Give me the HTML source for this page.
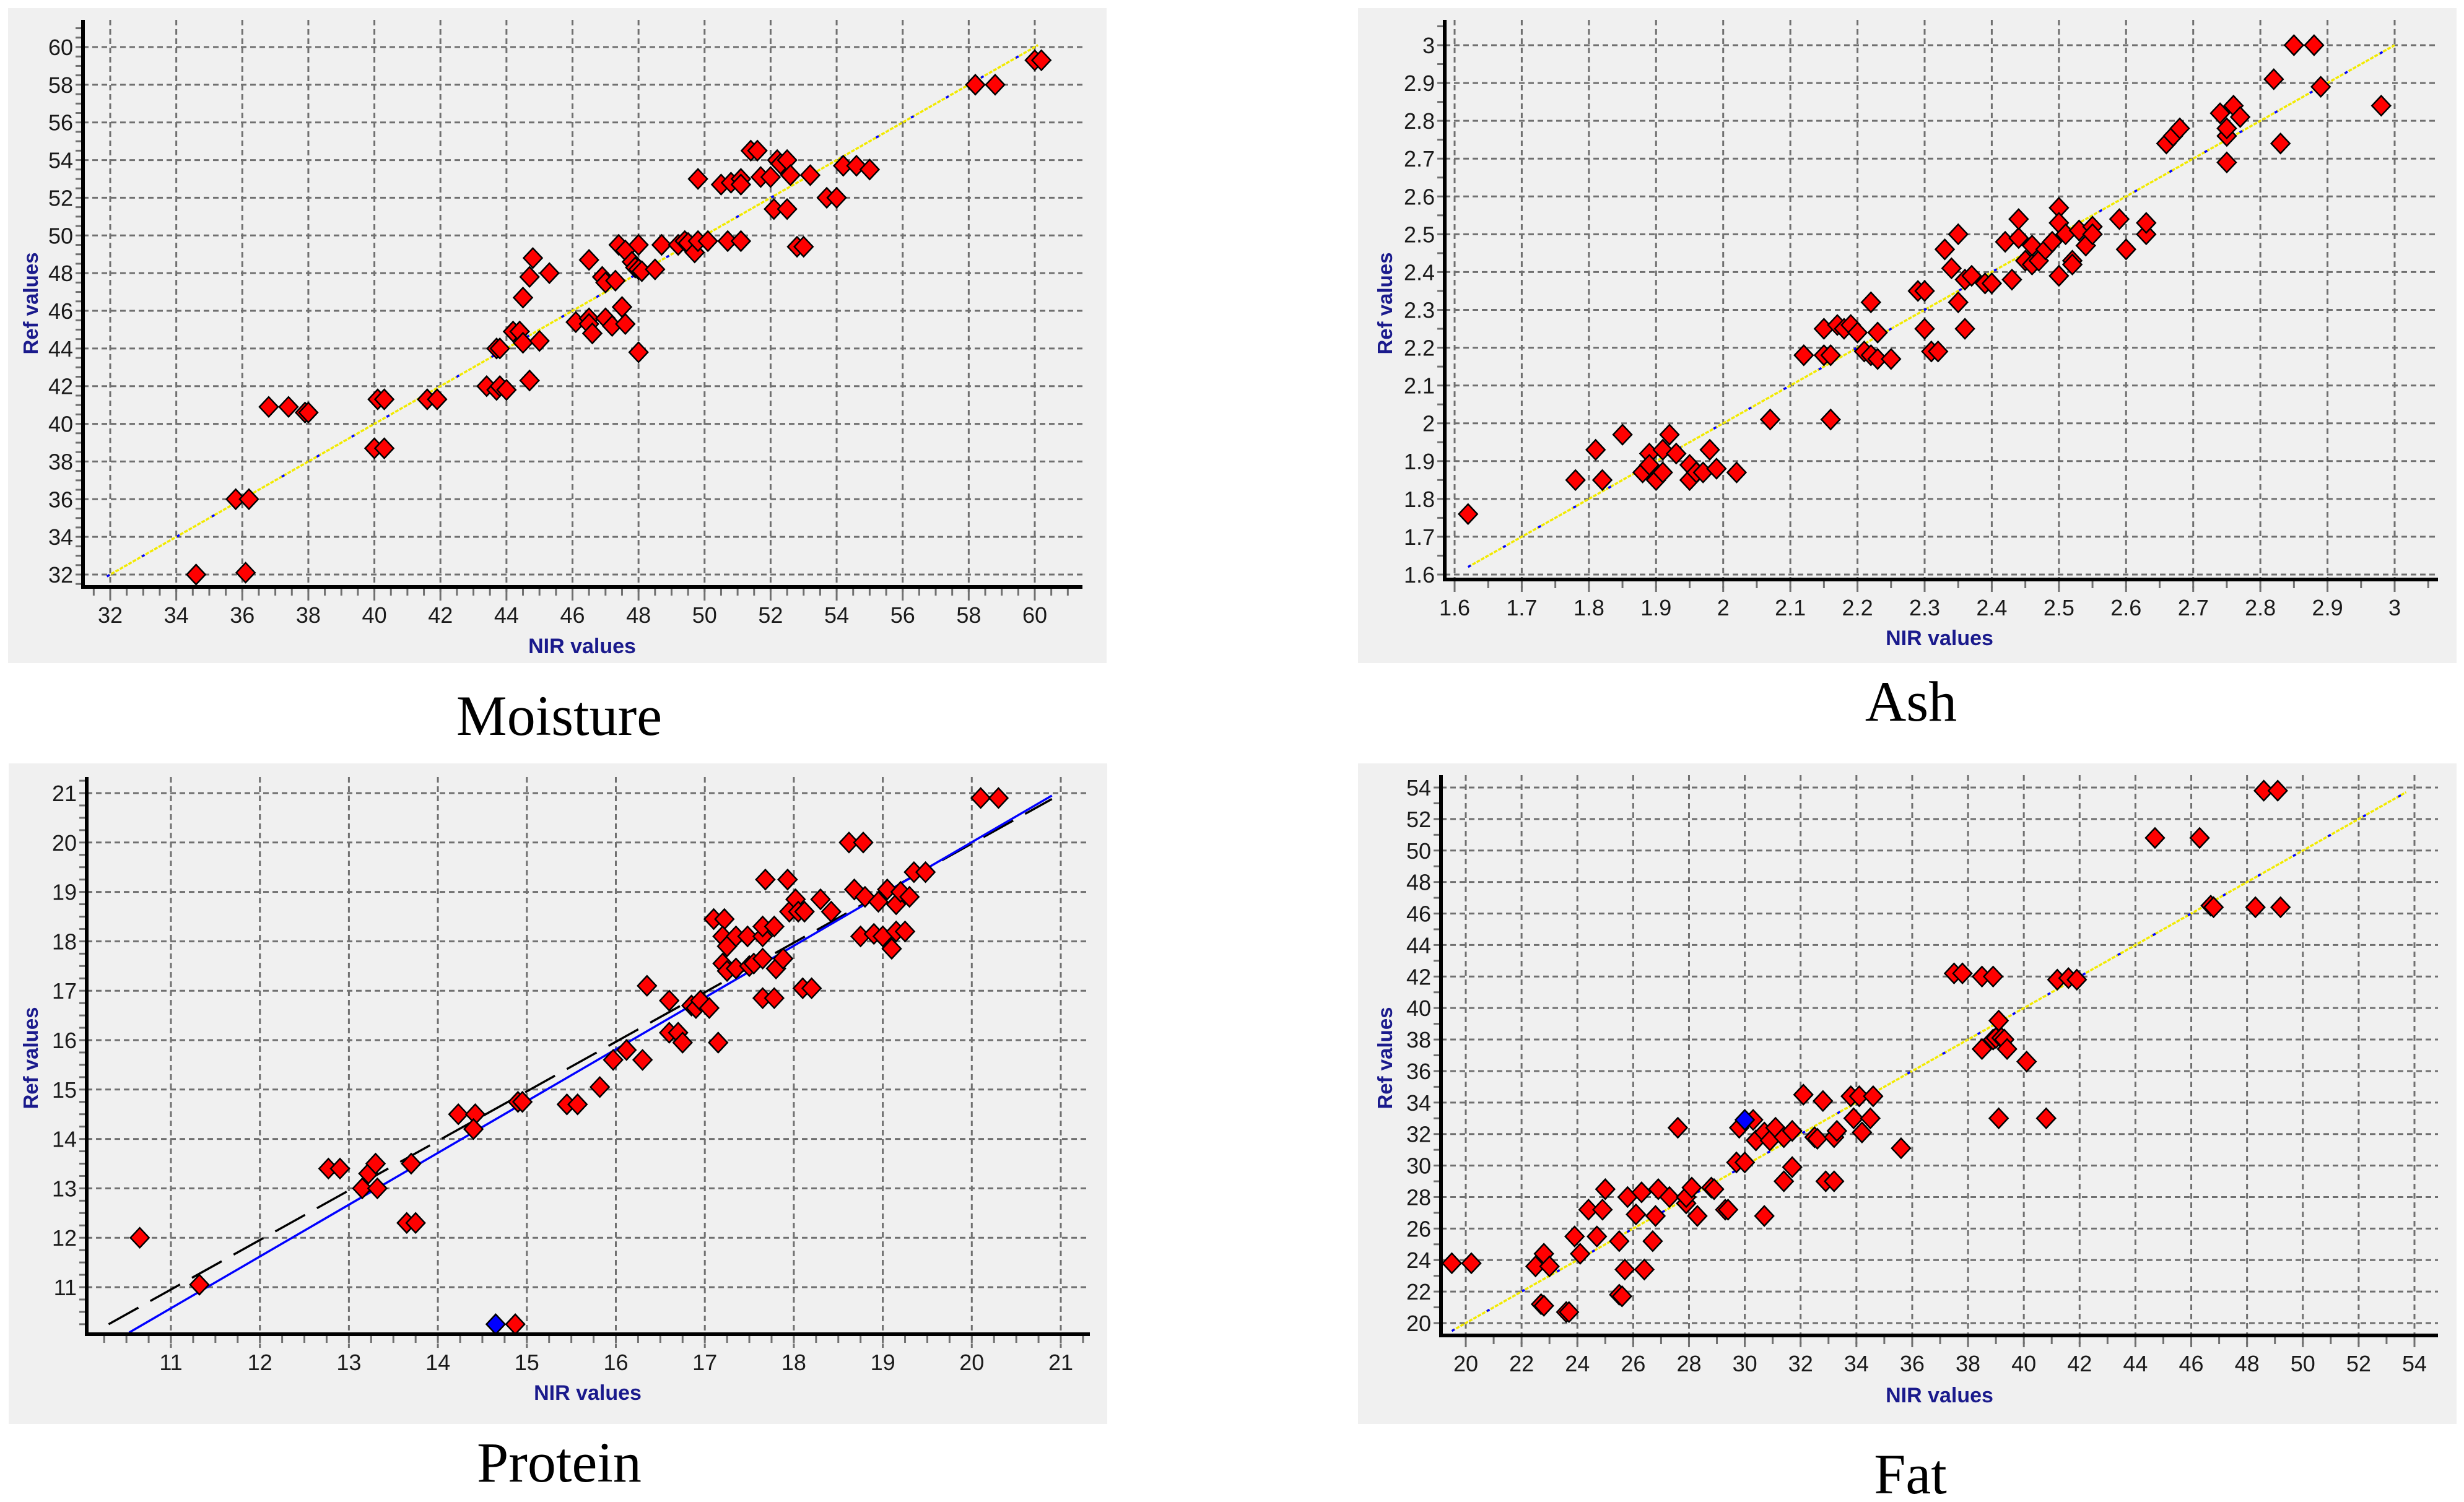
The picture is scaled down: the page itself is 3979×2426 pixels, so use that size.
<!DOCTYPE html>
<html><head><meta charset="utf-8">
<style>
html,body{margin:0;padding:0;background:#fff;}
svg{display:block;}
text{font-family:"Liberation Sans",Arial,sans-serif;}
</style></head>
<body>
<svg id="root" width="3979" height="2426" viewBox="0 0 3979 2426" xmlns="http://www.w3.org/2000/svg"></svg>
<script>
// ---- Moisture data ----
const moistureNIR = [34.6,36.1,35.8,36.2,36.8,37.4,37.9,38.0,40.0,40.3,40.1,40.3,41.6,41.9,43.4,43.7,43.8,44.0,44.7,43.7,43.8,44.2,44.4,44.5,45.0,44.5,44.7,44.8,45.3,46.1,46.5,46.5,46.6,46.5,46.9,47.0,47.3,47.0,47.2,47.5,47.6,47.4,47.6,47.8,47.9,48.0,48.0,48.1,48.5,48.0,48.7,49.2,49.4,49.5,49.7,49.8,50.1,49.8,50.5,50.8,51.1,51.1,50.7,51.1,51.4,51.6,51.7,52.0,52.1,52.2,52.3,52.5,52.6,52.5,52.8,53.0,53.2,53.7,54.0,54.2,54.6,55.0,58.2,58.8,60.0,60.2];
const moistureRef = [32,32.1,36,36,40.9,40.9,40.6,40.6,38.7,38.7,41.3,41.3,41.3,41.3,42,41.8,42,41.8,42.3,44,44,44.9,44.9,44.3,44.4,46.7,47.8,48.8,48,45.4,45.6,45.3,44.8,48.7,47.8,47.5,47.6,45.6,45.2,46.2,45.3,49.5,49.2,48.6,48.3,49.5,48.2,48.1,48.2,43.8,49.5,49.5,49.7,49.6,49.1,49.7,49.7,53,52.7,52.8,53,52.7,49.7,49.7,54.5,54.5,53.1,53.1,51.4,54,53.8,54,53.2,51.4,49.4,49.4,53.2,52,52,53.7,53.7,53.5,58,58,59.3,59.3];
const moistureXTicks = [32,34,36,38,40,42,44,46,48,50,52,54,56,58,60];
const moistureYTicks = [32,34,36,38,40,42,44,46,48,50,52,54,56,58,60];
const moistureFit = [31.9,60.1];

// ---- Ash data ----
const ashNIR = [1.62,1.78,1.81,1.82,1.85,1.88,1.89,1.89,1.90,1.91,1.92,1.93,1.91,1.95,1.95,1.96,1.97,1.98,1.99,2.02,2.07,2.12,2.15,2.16,2.15,2.16,2.17,2.18,2.19,2.20,2.21,2.22,2.22,2.23,2.23,2.25,2.29,2.30,2.30,2.31,2.32,2.33,2.34,2.35,2.35,2.36,2.37,2.36,2.39,2.40,2.42,2.43,2.44,2.44,2.45,2.46,2.46,2.47,2.48,2.49,2.50,2.50,2.50,2.51,2.52,2.52,2.53,2.54,2.55,2.55,2.59,2.60,2.63,2.63,2.66,2.67,2.68,2.74,2.75,2.75,2.75,2.76,2.77,2.82,2.83,2.85,2.88,2.89,2.98];
const ashRef = [1.76,1.85,1.93,1.85,1.97,1.87,1.92,1.89,1.85,1.93,1.97,1.92,1.87,1.89,1.85,1.87,1.87,1.93,1.88,1.87,2.01,2.18,2.18,2.18,2.25,2.01,2.26,2.25,2.26,2.24,2.19,2.32,2.18,2.24,2.17,2.17,2.35,2.35,2.25,2.19,2.19,2.46,2.41,2.50,2.32,2.38,2.39,2.25,2.37,2.37,2.48,2.38,2.49,2.54,2.43,2.47,2.42,2.43,2.46,2.48,2.57,2.53,2.39,2.50,2.43,2.42,2.51,2.47,2.52,2.50,2.54,2.46,2.50,2.53,2.74,2.76,2.78,2.82,2.76,2.78,2.69,2.84,2.81,2.91,2.74,3.0,3.0,2.89,2.84];
const ashXTicks = [1.6,1.7,1.8,1.9,2,2.1,2.2,2.3,2.4,2.5,2.6,2.7,2.8,2.9,3];
const ashYTicks = [1.6,1.7,1.8,1.9,2,2.1,2.2,2.3,2.4,2.5,2.6,2.7,2.8,2.9,3];
const ashFit = [1.62,3.0];

// ---- Protein data ----
const proteinNIR = [10.65,11.32,12.77,12.9,13.15,13.22,13.3,13.32,13.65,13.75,13.7,14.23,14.42,14.4,14.9,14.95,15.45,15.57,15.82,15.97,16.12,16.3,16.35,16.6,16.6,16.7,16.75,16.85,16.9,16.95,17.05,17.15,17.1,17.22,17.2,17.25,17.2,17.25,17.35,17.35,17.48,17.5,17.55,17.65,17.65,17.65,17.65,17.68,17.78,17.78,17.8,17.88,17.93,17.95,18.02,18.05,18.12,18.1,18.2,18.3,18.42,18.62,18.78,18.68,18.8,18.75,18.9,18.95,19.0,19.05,19.1,19.15,19.15,19.2,19.25,19.3,19.35,19.48,20.1,20.3,14.87];
const proteinRef = [12,11.05,13.4,13.4,13,13.3,13.5,13,12.3,12.3,13.5,14.5,14.5,14.2,14.75,14.75,14.7,14.7,15.05,15.6,15.8,15.6,17.1,16.8,16.15,16.15,15.95,16.7,16.65,16.8,16.65,15.95,18.45,18.45,18.1,17.9,17.55,17.4,18.1,17.45,18.1,17.5,17.55,18.1,18.3,17.65,16.85,19.25,18.3,16.85,17.45,17.65,19.25,18.6,18.85,18.6,18.6,17.05,17.05,18.85,18.6,20,20,19.05,18.9,18.1,18.15,18.8,18.1,19.05,17.85,18.2,18.75,19,18.2,18.9,19.4,19.4,20.9,20.9,10.25];
const proteinBlueNIR = [14.65];
const proteinBlueRef = [10.25];
const proteinXTicks = [11,12,13,14,15,16,17,18,19,20,21];
const proteinYTicks = [11,12,13,14,15,16,17,18,19,20,21];
const proteinFitBlueX = [10.53,20.9];
const proteinFitBlueY = [10.08,20.95];
const proteinFitBlackX = [10.3,20.9];
const proteinFitBlackY = [10.25,20.88];

// ---- Fat data ----
const fatNIR = [19.5,20.2,22.5,22.8,23.0,22.7,22.8,23.6,23.7,23.9,24.1,24.4,24.7,24.9,25.0,25.5,25.5,25.6,25.7,25.8,26.1,26.3,26.4,26.7,26.8,26.9,27.3,27.6,27.9,27.9,28.1,28.3,28.8,28.9,29.3,29.4,29.7,29.8,30.0,30.3,30.4,30.7,30.7,30.9,31.1,31.4,31.4,31.7,31.7,32.1,32.5,32.6,32.8,32.9,33.2,33.2,33.3,33.8,33.9,34.1,34.2,34.5,34.6,35.6,37.5,37.8,38.5,38.5,38.9,38.9,39.0,39.1,39.1,39.2,39.3,39.4,40.1,40.8,41.2,41.6,41.9,44.7,46.3,46.7,46.8,48.3,48.6,49.1,49.2];
const fatRef = [23.8,23.8,23.6,24.4,23.6,21.2,21.1,20.7,20.7,25.5,24.4,27.2,25.5,27.2,28.5,25.2,21.8,21.7,23.4,28.0,26.9,28.3,23.4,25.2,26.8,28.5,28.0,32.4,27.6,28.0,28.6,26.8,28.6,28.5,27.2,27.2,30.2,32.4,30.2,32.9,31.6,32.1,26.8,31.6,32.4,31.8,29.0,32.2,29.9,34.5,31.8,31.7,34.1,29.0,29.0,31.8,32.2,34.4,33.0,34.4,32.1,33.0,34.4,31.1,42.2,42.2,37.4,42,42,38.0,38.1,39.2,33.0,38.1,38.0,37.4,36.6,33.0,41.8,41.9,41.8,50.8,50.8,46.5,46.4,46.4,53.8,53.8,46.4];
const fatBlueNIR = [30.0];
const fatBlueRef = [32.9];
const fatXTicks = [20,22,24,26,28,30,32,34,36,38,40,42,44,46,48,50,52,54];
const fatYTicks = [20,22,24,26,28,30,32,34,36,38,40,42,44,46,48,50,52,54];
const fatFit = [19.5,53.7];

const NS = 'http://www.w3.org/2000/svg';
const root = document.getElementById('root');
function mk(tag, attrs, parent) {
  const e = document.createElementNS(NS, tag);
  for (const k in attrs) e.setAttribute(k, attrs[k]);
  (parent || root).appendChild(e);
  return e;
}
function scale(v0, p0, v1, p1) { return v => p0 + (v - v0) * (p1 - p0) / (v1 - v0); }

function panel(cfg) {
  const g = mk('g', {});
  
  
  const bg = mk('rect', {x: cfg.bx0, y: cfg.by0, width: cfg.bx1 - cfg.bx0, height: cfg.by1 - cfg.by0, fill: '#f0f0f0'}, g);
  
  
  const sx = scale(cfg.xa[0], cfg.xa[1], cfg.xa[2], cfg.xa[3]);
  const sy = scale(cfg.ya[0], cfg.ya[1], cfg.ya[2], cfg.ya[3]);
  const minorX = (cfg.xTicks[1] - cfg.xTicks[0]) / cfg.minor;
  for (let v = cfg.xTicks[0] - minorX * cfg.minor; v <= cfg.xTicks[cfg.xTicks.length - 1] + minorX * cfg.minor + 1e-9; v += minorX) {
    const px = sx(v);
    if (px <= cfg.ax + 4 || px >= cfg.right) continue;
    mk('line', {x1: px, x2: px, y1: cfg.ay, y2: cfg.ay + 14, stroke: '#707070', 'stroke-width': 3}, g);
  }
  const minorY = (cfg.yTicks[1] - cfg.yTicks[0]) / cfg.minor;
  for (let v = cfg.yTicks[0] - minorY * cfg.minor; v <= cfg.yTicks[cfg.yTicks.length - 1] + minorY * cfg.minor + 1e-9; v += minorY) {
    const py = sy(v);
    if (py >= cfg.ay - 4 || py <= cfg.top) continue;
    mk('line', {x1: cfg.ax - 12, x2: cfg.ax, y1: py, y2: py, stroke: '#707070', 'stroke-width': 3}, g);
  }
  cfg.xTicks.forEach(t => {
    const px = sx(t);
    const gl = mk('line', {x1: px, x2: px, y1: cfg.top, y2: cfg.ay + 22, stroke: '#707070', 'stroke-width': 3, 'stroke-dasharray': '9 6'}, g);
    
    
    const tl = mk('text', {x: px, y: cfg.ay + 58, 'font-size': 36, fill: '#1a1a1a', 'text-anchor': 'middle'}, g);
    tl.textContent = String(t);
    
    
  });
  cfg.yTicks.forEach(t => {
    const py = sy(t);
    const gl = mk('line', {x1: cfg.ax, x2: cfg.right, y1: py, y2: py, stroke: '#707070', 'stroke-width': 3, 'stroke-dasharray': '9 6'}, g);
    
    
    const tl = mk('text', {x: cfg.ax - 16, y: py + 13, 'font-size': 36, fill: '#1a1a1a', 'text-anchor': 'end'}, g);
    tl.textContent = String(t);
    
    
  });
  if (cfg.fitYellow) {
    const f = cfg.fitYellow;
    const l1 = mk('line', {x1: sx(f[0]), y1: sy(f[0]), x2: sx(f[1]), y2: sy(f[1]), stroke: '#f2ea00', 'stroke-width': 3.5, 'stroke-dasharray': '6 2'}, g);
    
    
    const l2 = mk('line', {x1: sx(f[0]), y1: sy(f[0]), x2: sx(f[1]), y2: sy(f[1]), stroke: '#0000ff', 'stroke-width': 3.5, 'stroke-dasharray': '5 60'}, g);
    
    
  }
  if (cfg.fitBlack) {
    const f = cfg.fitBlack;
    const l = mk('line', {x1: sx(f[0]), y1: sy(f[1]), x2: sx(f[2]), y2: sy(f[3]), stroke: '#000', 'stroke-width': 3.5, 'stroke-dasharray': '55 22'}, g);
    
    
  }
  if (cfg.fitBlue) {
    const f = cfg.fitBlue;
    const l = mk('line', {x1: sx(f[0]), y1: sy(f[1]), x2: sx(f[2]), y2: sy(f[3]), stroke: '#0000ff', 'stroke-width': 3.5}, g);
    
    
  }
  function diamond(x, y, fill, nm) {
    const d = mk('polygon', {points: `${x},${y-16} ${x+15},${y} ${x},${y+16} ${x-15},${y}`, fill: fill, stroke: '#000', 'stroke-width': 2.5}, g);
    
    
  }
  cfg.px.forEach((v, i) => diamond(sx(v), sy(cfg.py[i]), '#ff0000', cfg.name + '-sample-point'));
  if (cfg.bx) cfg.bx.forEach((v, i) => diamond(sx(v), sy(cfg.by[i]), '#0000ff', cfg.name + '-highlight-point'));
  const ya = mk('line', {x1: cfg.ax, x2: cfg.ax, y1: cfg.top, y2: cfg.ay + 3, stroke: '#000', 'stroke-width': 6}, g);
  
  
  const xa = mk('line', {x1: cfg.ax - 3, x2: cfg.right, y1: cfg.ay, y2: cfg.ay, stroke: '#000', 'stroke-width': 6}, g);
  
  
  const xt = mk('text', {x: cfg.xtx, y: cfg.xty + 12, 'font-size': 34, 'font-weight': 'bold', fill: '#1a1a8c', 'text-anchor': 'middle'}, g);
  xt.textContent = 'NIR values';
  
  
  const yt = mk('text', {x: 0, y: 0, 'font-size': 33, 'font-weight': 'bold', fill: '#1a1a8c', 'text-anchor': 'middle', transform: `translate(${cfg.ytx + 11},${cfg.yty}) rotate(-90)`}, g);
  yt.textContent = 'Ref values';
  
  
  const ti = mk('text', {x: cfg.tx, y: cfg.ty + 30, 'font-size': 92, fill: '#000', 'text-anchor': 'middle', style: 'font-family:"Liberation Serif",serif'}, g);
  ti.textContent = cfg.title;
  
  
}

panel({name: 'moisture', title: 'Moisture', bx0: 13, by0: 13, bx1: 1787, by1: 1071,
  ax: 134, ay: 948, top: 32, right: 1748, xa: [32, 178, 60, 1671], ya: [60, 76, 32, 928],
  xTicks: moistureXTicks, yTicks: moistureYTicks, minor: 4, px: moistureNIR, py: moistureRef,
  fitYellow: moistureFit, xtx: 940, xty: 1043, ytx: 50, yty: 490, tx: 903, ty: 1157});

panel({name: 'ash', title: 'Ash', bx0: 2193, by0: 13, bx1: 3967, by1: 1071,
  ax: 2333, ay: 936, top: 32, right: 3937, xa: [1.6, 2349, 3, 3867], ya: [3, 73, 1.6, 928],
  xTicks: ashXTicks, yTicks: ashYTicks, minor: 2, px: ashNIR, py: ashRef,
  fitYellow: ashFit, xtx: 3132, xty: 1030, ytx: 2237, yty: 490, tx: 3086, ty: 1134});

panel({name: 'protein', title: 'Protein', bx0: 14, by0: 1233, bx1: 1788, by1: 2300,
  ax: 140, ay: 2155, top: 1255, right: 1760, xa: [11, 276, 21, 1713], ya: [21, 1281, 11, 2079],
  xTicks: proteinXTicks, yTicks: proteinYTicks, minor: 4, px: proteinNIR, py: proteinRef,
  bx: proteinBlueNIR, by: proteinBlueRef,
  fitBlack: [proteinFitBlackX[0], proteinFitBlackY[0], proteinFitBlackX[1], proteinFitBlackY[1]],
  fitBlue: [proteinFitBlueX[0], proteinFitBlueY[0], proteinFitBlueX[1], proteinFitBlueY[1]],
  xtx: 949, xty: 2249, ytx: 50, yty: 1709, tx: 903, ty: 2363});

panel({name: 'fat', title: 'Fat', bx0: 2193, by0: 1233, bx1: 3967, by1: 2300,
  ax: 2327, ay: 2157, top: 1252, right: 3937, xa: [20, 2367, 54, 3899], ya: [54, 1272, 20, 2137],
  xTicks: fatXTicks, yTicks: fatYTicks, minor: 2, px: fatNIR, py: fatRef,
  bx: fatBlueNIR, by: fatBlueRef,
  fitYellow: fatFit, xtx: 3132, xty: 2253, ytx: 2237, yty: 1709, tx: 3085, ty: 2382});
</script>
</body></html>
